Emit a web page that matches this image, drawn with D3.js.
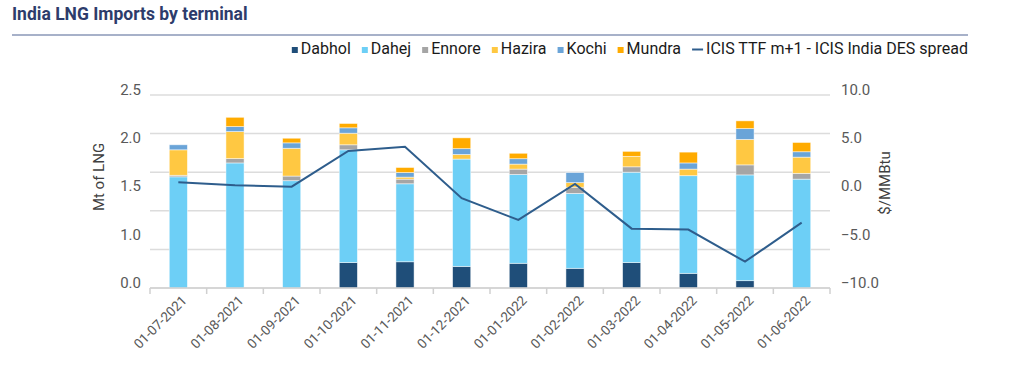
<!DOCTYPE html>
<html>
<head>
<meta charset="utf-8">
<script src="https://cdn.jsdelivr.net/npm/d3@7"></script>
<style>
  body { margin: 0; background: #fff; }
  svg { font-family: Roboto, "Noto Sans", sans-serif; }
</style>
</head>
<body>
<svg id="chart" width="1024" height="372"></svg>
<script>
var months = ["01-07-2021","01-08-2021","01-09-2021","01-10-2021","01-11-2021","01-12-2021",
              "01-01-2022","01-02-2022","01-03-2022","01-04-2022","01-05-2022","01-06-2022"];
var terminals = ["Dabhol","Dahej","Ennore","Hazira","Kochi","Mundra"];
var dabhol = [0, 0, 0, 0.33, 0.34, 0.28, 0.32, 0.255, 0.33, 0.19, 0.095, 0];
var dahej  = [1.44, 1.62, 1.39, 1.46, 1.01, 1.39, 1.15, 0.97, 1.17, 1.265, 1.37, 1.41];
var ennore = [0.02, 0.056, 0.06, 0.065, 0.06, 0, 0.07, 0.08, 0.07, 0, 0.13, 0.075];
var hazira = [0.33, 0.35, 0.36, 0.15, 0.026, 0.06, 0.065, 0.06, 0.135, 0.085, 0.33, 0.21];
var kochi  = [0.065, 0.065, 0.07, 0.07, 0.06, 0.075, 0.07, 0.13, 0, 0.08, 0.14, 0.07];
var mundra = [0, 0.12, 0.06, 0.056, 0.065, 0.14, 0.07, 0, 0.065, 0.14, 0.10, 0.12];
var spread = [0.95, 0.64, 0.5, 4.2, 4.64, -0.7, -2.95, 0.78, -3.85, -3.95, -7.27, -3.23];
var leftGrid = [0, 0.5, 1.0, 1.5, 2.0, 2.5];
var rightTicks = [-10, -5, 0, 5, 10];
var leftTickLabels = ["0.0","1.0","1.5","2.0","2.5"];   // as printed on the original

var colors = {Dabhol:"#1f4e79", Dahej:"#6dcff6", Ennore:"#a5a5a5", Hazira:"#ffc842", Kochi:"#6aa4d8", Mundra:"#ffab00"};
var lineColor = "#2e5d8c";

var svg = d3.select("#chart");
var margin = {top: 95, bottom: 288, left: 150, right: 830};

// title + rule
svg.append("text").attr("x", 12).attr("y", 20)
   .attr("font-size", 17.5).attr("font-weight", "bold").attr("fill", "#2d3c6b")
   .text("India LNG Imports by terminal");
svg.append("line").attr("x1", 12).attr("x2", 968).attr("y1", 35).attr("y2", 35)
   .attr("stroke", "#a7b1c9").attr("stroke-width", 2);

var x = d3.scaleBand().domain(months).range([margin.left, margin.right]).padding(0);
var y = d3.scaleLinear().domain([0, 2.5]).range([margin.bottom, margin.top]);
var y2 = d3.scaleLinear().domain([-10, 10]).range([margin.bottom, margin.top]);

// gridlines
svg.append("g").selectAll("line").data(leftGrid).enter().append("line")
   .attr("x1", margin.left).attr("x2", margin.right)
   .attr("y1", d => y(d)).attr("y2", d => y(d))
   .attr("stroke", "#dcdcdc").attr("stroke-width", 1.5);

// stacked bars
var table = months.map(function(m, i) {
  return {month: m, Dabhol: dabhol[i], Dahej: dahej[i], Ennore: ennore[i],
          Hazira: hazira[i], Kochi: kochi[i], Mundra: mundra[i]};
});
var stacked = d3.stack().keys(terminals)(table);
var bw = x.bandwidth() * 0.32;

svg.append("g").selectAll("g").data(stacked).enter().append("g")
   .attr("fill", d => colors[d.key])
   .selectAll("rect").data(d => d).enter().append("rect")
   .attr("x", d => x(d.data.month) + x.bandwidth() / 2 - bw / 2)
   .attr("width", bw)
   .attr("y", d => y(d[1]))
   .attr("height", d => Math.max(0, y(d[0]) - y(d[1])))
   .attr("stroke", "#ffffff").attr("stroke-opacity", 0.6).attr("stroke-width", 0.8);

// spread line
var line = d3.line()
   .x((d, i) => x(months[i]) + x.bandwidth() / 2)
   .y(d => y2(d));
svg.append("path").datum(spread)
   .attr("d", line).attr("fill", "none")
   .attr("stroke", lineColor).attr("stroke-width", 2);

// x axis
var xAxis = svg.append("g").attr("transform", "translate(0," + margin.bottom + ")");
xAxis.append("line").attr("x1", margin.left).attr("x2", margin.right)
   .attr("stroke", "#d0d0d0").attr("stroke-width", 1.5);
var tickPos = months.map(m => x(m)).concat([margin.right]);
xAxis.selectAll("line.tk").data(tickPos).enter().append("line").attr("class", "tk")
   .attr("x1", d => d).attr("x2", d => d).attr("y1", 0).attr("y2", 6)
   .attr("stroke", "#d0d0d0").attr("stroke-width", 1.5);
xAxis.selectAll("text").data(months).enter().append("text")
   .attr("transform", d => "translate(" + (x(d) + x.bandwidth() / 2 + 6) + ",10) rotate(-45)")
   .attr("text-anchor", "end").attr("dy", "0.35em")
   .attr("font-size", 13.5).attr("fill", "#595959")
   .text(d => d);

// left axis (labels placed as in the original)
svg.append("g").attr("transform", "translate(" + (margin.left - 6) + ",0)")
   .call(d3.axisLeft(y2).tickValues(rightTicks).tickSize(0).tickFormat((d, i) => leftTickLabels[i]))
   .call(g => g.select(".domain").remove())
   .call(g => g.selectAll("text").attr("font-size", 15).attr("fill", "#595959")
          .attr("font-family", "Roboto").attr("dy", "-0.05em"));

// right axis
svg.append("g").attr("transform", "translate(" + (margin.right + 8) + ",0)")
   .call(d3.axisRight(y2).tickValues(rightTicks).tickSize(0).tickFormat(d3.format(".1f")))
   .call(g => g.select(".domain").remove())
   .call(g => g.selectAll("text").attr("font-size", 15).attr("fill", "#595959")
          .attr("font-family", "Roboto").attr("dy", "-0.05em"));

// axis titles
svg.append("text").attr("transform", "translate(104,177) rotate(-90)")
   .attr("text-anchor", "middle").attr("font-size", 15).attr("fill", "#404040")
   .text("Mt of LNG");
svg.append("text").attr("transform", "translate(890,183) rotate(-90)")
   .attr("text-anchor", "middle").attr("font-size", 15).attr("fill", "#404040")
   .text("$/MMBtu");

// legend, right aligned
var legendItems = terminals.map(t => ({name: t, color: colors[t], type: "box"}))
   .concat([{name: "ICIS TTF m+1 - ICIS India DES spread", color: lineColor, type: "line"}]);
var legend = svg.append("g").attr("font-size", 16).attr("fill", "#1a1a1a");
var lx = 0;
var items = legend.selectAll("g").data(legendItems).enter().append("g");
items.each(function(d) {
  var g = d3.select(this);
  var markW = d.type === "box" ? 6 : 11;
  if (d.type === "box") {
    g.append("rect").attr("x", lx).attr("y", -7).attr("width", 6).attr("height", 6).attr("fill", d.color);
  } else {
    g.append("line").attr("x1", lx).attr("x2", lx + 11).attr("y1", -4.5).attr("y2", -4.5)
     .attr("stroke", d.color).attr("stroke-width", 2);
  }
  var t = g.append("text").attr("x", lx + markW + 3).attr("y", 0).text(d.name);
  lx += markW + 3 + t.node().getComputedTextLength() + 11;
});
legend.attr("transform", "translate(" + (968 - (lx - 11)) + ",54)");
</script>
</body>
</html>
